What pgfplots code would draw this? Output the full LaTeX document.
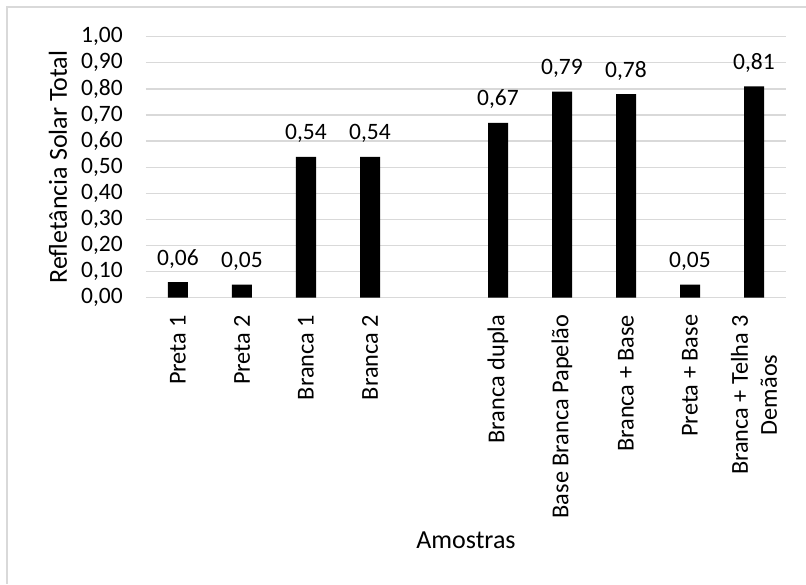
\documentclass[border=0pt]{standalone}
\usepackage{pgfplots}
\pgfplotsset{compat=1.18}
\usepackage{fontspec}
\setmainfont{Carlito}
\definecolor{gridgray}{HTML}{D9D9D9}

% Refletância solar total por amostra (posição 4 fica vazia)
\pgfplotstableread{
x   y
0   0.06
1   0.05
2   0.54
3   0.54
5   0.67
6   0.79
7   0.78
8   0.05
9   0.81
}\refl

\begin{document}
\fontsize{23.5}{28}\selectfont
\begin{tikzpicture}
\begin{axis}[
  scale only axis, width=640pt, height=261pt,
  xmin=-0.5, xmax=9.5, ymin=0, ymax=1,
  ytick={0,0.1,0.2,0.3,0.4,0.5,0.6,0.7,0.8,0.9,1},
  xtick={0,1,2,3,5,6,7,8,9},
  xticklabels={Preta 1,Preta 2,Branca 1,Branca 2,Branca dupla,Base Branca Papelão,Branca + Base,Preta + Base,{Branca + Telha 3\\Demãos}},
  x tick label style={rotate=90, anchor=east, align=center, inner sep=0pt, xshift=-17pt,
    font=\fontsize{24.3}{29}\selectfont},
  y tick label style={inner sep=0pt, xshift=-23pt},
  major tick length=0pt,
  axis line style={draw=none},
  ymajorgrids, grid style={draw=gridgray, line width=1.3pt},
  /pgf/number format/.cd, use comma, fixed, fixed zerofill, precision=2, assume math mode=true,
  /pgfplots/.cd,
  yticklabel={\pgfmathprintnumber{\tick}},
  xlabel={Amostras},
  ylabel={Refletância Solar Total},
  label style={font=\fontsize{26}{31}\selectfont},
  xlabel style={at={(axis description cs:0.5,-0.928)}, anchor=center},
  ylabel style={at={(axis description cs:-0.1375,0.5)}, anchor=center},
  nodes near coords,
  nodes near coords style={anchor=base, yshift=17pt, inner sep=0pt},
  clip=false,
]
\addplot[ybar, bar width=20pt, fill=black, draw=none] table[x=x, y=y] {\refl};
\end{axis}
% chart area frame (top and left edges fall inside the page)
\draw[gridgray, line width=1.3pt] (660pt,290.7pt) -- (-139pt,290.7pt) -- (-139pt,-286.3pt);
\pgfresetboundingbox
\path[use as bounding box] (-146pt,297.7pt) rectangle (660pt,-286.3pt);
\end{tikzpicture}
\end{document}
